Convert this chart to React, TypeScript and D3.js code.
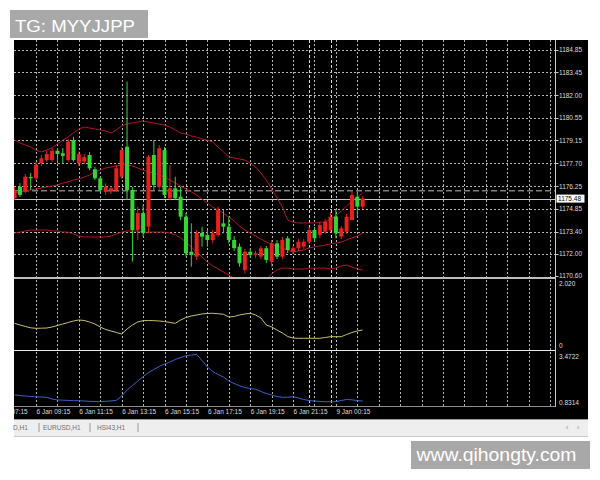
import React from 'react';
import * as d3 from 'd3';

// 15-minute candles (66 bars)
const open = [1175.52,1176.23,1175.92,1176.84,1176.76,1177.71,1177.91,1177.91,1178.50,1178.34,
  1177.91,1179.17,1177.71,1177.81,1178.23,1177.33,1176.76,1175.92,1175.92,1176.02,
  1176.86,1178.75,1176.02,1173.50,1174.57,1173.71,1178.23,1176.23,1178.54,1175.50,
  1176.13,1175.60,1174.34,1172.13,1171.82,1173.31,1173.19,1172.87,1173.19,1173.92,
  1173.71,1172.87,1172.45,1170.98,1172.13,1171.92,1171.82,1172.35,1171.50,1172.66,
  1171.82,1172.98,1172.13,1172.35,1172.45,1172.76,1173.50,1173.19,1173.39,1173.50,
  1174.34,1173.08,1173.39,1174.13,1175.60,1174.97];
const high = [1176.21,1176.46,1177.03,1177.09,1177.79,1178.23,1178.48,1178.67,1178.67,1178.67,
  1179.24,1179.38,1178.48,1178.29,1178.42,1177.47,1176.91,1176.45,1176.27,1177.60,
  1178.73,1182.85,1176.21,1174.97,1175.08,1178.23,1179.17,1178.86,1178.73,1177.60,
  1176.86,1176.23,1174.57,1173.92,1173.50,1173.71,1173.50,1173.50,1174.97,1174.76,
  1174.34,1173.12,1172.66,1172.30,1172.30,1172.18,1172.49,1172.49,1172.87,1172.87,
  1173.06,1173.12,1172.49,1172.93,1172.93,1173.69,1173.69,1174.00,1174.19,1174.65,
  1174.76,1173.75,1174.51,1175.92,1175.92,1175.64];
const low = [1175.39,1175.58,1175.83,1176.02,1176.65,1177.54,1177.79,1177.79,1177.71,1177.72,
  1177.79,1177.81,1177.54,1177.66,1177.28,1176.65,1175.90,1175.71,1175.77,1175.90,
  1176.72,1175.39,1171.50,1172.87,1173.08,1173.29,1176.02,1176.02,1175.52,1175.39,
  1175.39,1174.13,1171.82,1171.19,1171.61,1172.45,1172.45,1172.68,1173.08,1173.29,
  1172.66,1172.18,1171.19,1170.77,1171.73,1171.73,1171.67,1171.42,1171.19,1171.67,
  1171.67,1172.05,1171.99,1172.18,1172.30,1172.62,1172.81,1173.00,1173.25,1173.39,
  1172.98,1172.93,1173.25,1174.13,1174.34,1174.82];
const close = [1176.02,1175.71,1176.86,1176.76,1177.60,1178.02,1178.29,1178.50,1178.29,1178.17,
  1179.07,1177.91,1178.29,1178.10,1177.39,1176.76,1176.02,1176.23,1176.13,1177.39,
  1178.54,1176.02,1173.50,1174.57,1173.31,1178.12,1176.34,1178.65,1175.71,1176.13,
  1175.50,1174.34,1172.03,1171.92,1173.31,1173.08,1172.87,1173.29,1174.76,1173.71,
  1172.87,1172.35,1171.40,1172.13,1171.92,1172.03,1172.35,1171.61,1172.66,1171.82,
  1172.87,1172.24,1172.35,1172.76,1172.76,1173.50,1172.98,1173.82,1174.02,1174.34,
  1173.29,1173.61,1174.34,1175.71,1174.97,1175.48];

// bollinger bands
const bbUpper = [1179.17,1178.99,1178.86,1178.73,1178.54,1178.42,1178.54,1178.67,1178.92,1179.17,
  1179.36,1179.62,1179.87,1179.99,1179.93,1179.87,1179.81,1179.74,1179.62,1179.81,
  1180.06,1180.18,1180.25,1180.31,1180.37,1180.31,1180.25,1180.18,1180.12,1179.99,
  1179.81,1179.62,1179.55,1179.43,1179.36,1179.24,1179.17,1179.05,1178.73,1178.42,
  1178.10,1178.04,1177.98,1177.91,1177.72,1177.47,1177.09,1176.65,1176.09,1175.52,
  1174.95,1174.13,1174.00,1173.94,1173.94,1173.94,1173.94,1174.00,1174.00,1174.19,
  1174.38,1174.70,1175.01,1175.33,1175.58,1175.83];
const bbMiddle = [1175.83,1175.90,1175.96,1176.02,1176.09,1176.15,1176.21,1176.27,1176.34,1176.46,
  1176.53,1176.65,1176.72,1176.84,1176.97,1177.16,1177.28,1177.41,1177.47,1177.54,
  1177.60,1177.60,1177.54,1177.41,1177.28,1177.16,1177.09,1176.97,1176.84,1176.65,
  1176.46,1176.27,1176.09,1175.90,1175.71,1175.45,1175.20,1174.95,1174.76,1174.57,
  1174.32,1174.07,1173.75,1173.50,1173.31,1173.12,1172.93,1172.74,1172.62,1172.49,
  1172.37,1172.24,1172.11,1172.18,1172.24,1172.37,1172.43,1172.49,1172.55,1172.62,
  1172.68,1172.74,1172.87,1173.00,1173.12,1173.31];
const bbLower = [1173.31,1173.37,1173.44,1173.50,1173.50,1173.50,1173.50,1173.44,1173.44,1173.37,
  1173.37,1173.25,1173.12,1173.06,1173.06,1173.06,1173.06,1173.06,1173.12,1173.25,
  1173.37,1173.44,1173.44,1173.44,1173.37,1173.37,1173.37,1173.37,1173.37,1173.31,
  1173.19,1173.00,1172.74,1172.43,1172.11,1171.80,1171.48,1171.23,1171.04,1170.85,
  1170.66,1170.47,1170.22,1170.03,1169.91,1169.91,1170.03,1170.35,1170.73,1170.98,
  1171.10,1171.10,1171.04,1171.04,1171.04,1171.10,1171.10,1171.10,1171.10,1171.04,
  1171.10,1171.23,1171.29,1171.17,1171.04,1170.98];

// sub window 1 (yellow) and sub window 2 (blue)
const atrValues = [0.745,0.694,0.649,0.609,0.594,0.597,0.603,0.633,0.679,0.724,
  0.769,0.814,0.845,0.830,0.784,0.724,0.633,0.558,0.513,0.468,
  0.422,0.573,0.694,0.784,0.824,0.830,0.824,0.814,0.799,0.769,
  0.745,0.845,0.920,0.965,0.995,1.026,1.041,1.047,1.032,1.017,
  0.935,0.950,0.995,1.026,1.047,0.995,0.905,0.694,0.633,0.543,
  0.452,0.347,0.302,0.293,0.293,0.293,0.293,0.293,0.317,0.341,
  0.341,0.341,0.407,0.468,0.513,0.543];
const oscValues = [1.298,1.272,1.246,1.220,1.204,1.194,1.178,1.090,1.039,1.028,
  1.018,1.007,1.002,0.987,0.971,0.956,0.950,0.971,0.992,1.023,
  1.246,1.556,1.789,2.022,2.245,2.463,2.618,2.773,2.903,3.006,
  3.136,3.239,3.328,3.359,3.400,3.084,2.748,2.514,2.359,2.230,
  2.022,1.893,1.774,1.686,1.634,1.593,1.479,1.375,1.298,1.220,
  1.178,1.184,1.204,1.142,1.064,1.007,0.987,0.961,0.950,0.950,
  0.950,1.013,1.064,1.049,1.007,0.987];

const priceTicks = [1184.85, 1183.45, 1182.00, 1180.55, 1179.15, 1177.70, 1176.25, 1174.85, 1173.40, 1172.00, 1170.60];
const atrTicks = [2.02, 0];
const oscTicks = [3.4722, 0.8314];
const timeLabels = ['6 Jan 07:15', '6 Jan 09:15', '6 Jan 11:15', '6 Jan 13:15', '6 Jan 15:15', '6 Jan 17:15', '6 Jan 19:15', '6 Jan 21:15', '9 Jan 00:15'];
const timeLabelBars = [-4, 4, 12, 20, 28, 36, 44, 52, 60];
const separatorBars = [55, 59];
const dashedLevel = 1175.97;
const lastPrice = 1175.48;
const tabs = ['D,H1', 'EURUSD,H1', 'HSI43,H1'];

const x = d3.scaleLinear().domain([0, 100]).range([14.6, 550.1]);
const yMain = d3.scaleLinear().domain([1170.60, 1184.85]).range([276, 50]);
const yAtr = d3.scaleLinear().domain([0, 2.02]).range([348, 281]);
const yOsc = d3.scaleLinear().domain([0.8314, 3.4722]).range([404, 353]);

const LEFT = 14, AXIS = 555.5;
const BULL = '#e8201e', BEAR = '#34d634', GRID = '#b4b4b4';

export default function App() {
  const mk = (ys: d3.ScaleLinear<number, number>) =>
    d3.line<number>().x((_, i) => x(i)).y(d => ys(d));
  const bandPath = mk(yMain);
  const gridBars = d3.range(4, 101, 4);
  const fmt2 = d3.format('.2f');

  return (
    <svg width={600} height={480} style={{ position: 'absolute', left: 0, top: 0, background: '#fff' }}
      fontFamily="'Liberation Sans', Arial, sans-serif">
      <defs>
        <clipPath id="cMain"><rect x={LEFT} y={40} width={AXIS - LEFT} height={237} /></clipPath>
        <clipPath id="cSub"><rect x={LEFT} y={279} width={AXIS - LEFT} height={128} /></clipPath>
        <clipPath id="cTime"><rect x={LEFT} y={405} width={AXIS - LEFT} height={14} /></clipPath>
      </defs>

      <rect x={LEFT} y={40} width={574} height={379} fill="#000" />

      {/* grid */}
      {gridBars.map(b => (
        <line key={'v' + b} x1={Math.round(x(b)) + 0.5} x2={Math.round(x(b)) + 0.5} y1={40} y2={406}
          stroke={GRID} strokeDasharray="2 2" />
      ))}
      {separatorBars.map(b => (
        <line key={'s' + b} x1={Math.round(x(b)) + 0.5} x2={Math.round(x(b)) + 0.5} y1={40} y2={406}
          stroke="#d8d8d8" strokeDasharray="3 2" />
      ))}
      {priceTicks.slice(0, -1).map(t => (
        <line key={'h' + t} x1={LEFT} x2={AXIS} y1={Math.round(yMain(t)) + 0.5} y2={Math.round(yMain(t)) + 0.5}
          stroke={GRID} strokeDasharray="2 2" />
      ))}

      {/* main window */}
      <g clipPath="url(#cMain)">
        <line x1={LEFT} x2={AXIS} y1={yMain(dashedLevel)} y2={yMain(dashedLevel)} stroke="#bcbcbc" strokeDasharray="6 3" />
        <line x1={LEFT} x2={AXIS} y1={Math.round(yMain(lastPrice)) + 0.5} y2={Math.round(yMain(lastPrice)) + 0.5} stroke="#c4c4c4" />
        {[bbUpper, bbMiddle, bbLower].map((s, k) => (
          <path key={'bb' + k} d={bandPath(s) || ''} fill="none" stroke="#b0162e" strokeWidth={1} />
        ))}
        {open.map((o, i) => {
          const c = close[i];
          const col = c >= o ? BULL : BEAR;
          const cx = x(i);
          const top = yMain(Math.max(o, c));
          const bot = yMain(Math.min(o, c));
          return (
            <g key={'c' + i}>
              <line x1={cx} x2={cx} y1={yMain(high[i])} y2={yMain(low[i])} stroke={col} strokeWidth={1} />
              <rect x={cx - 2} y={top} width={4} height={Math.max(1, bot - top)} fill={col} />
            </g>
          );
        })}
      </g>

      {/* sub windows */}
      <g clipPath="url(#cSub)">
        <path d={mk(yAtr)(atrValues) || ''} fill="none" stroke="#c2c070" strokeWidth={1} />
        <path d={mk(yOsc)(oscValues) || ''} fill="none" stroke="#3f5fc4" strokeWidth={1} />
      </g>

      {/* window frames */}
      <rect x={LEFT} y={277} width={AXIS - LEFT} height={2} fill="#bdbdbd" />
      <line x1={LEFT} x2={AXIS} y1={350.5} y2={350.5} stroke="#e6e6e6" />
      <line x1={LEFT} x2={AXIS} y1={406.5} y2={406.5} stroke="#8c8c8c" />
      <line x1={AXIS} x2={AXIS} y1={40} y2={407} stroke="#c8c8c8" />

      {/* price axis */}
      {priceTicks.map(t => (
        <g key={'pt' + t}>
          <line x1={AXIS} x2={AXIS + 3} y1={Math.round(yMain(t)) + 0.5} y2={Math.round(yMain(t)) + 0.5} stroke="#c8c8c8" />
          <text x={559} y={yMain(t) + 2.3} fontSize={6.5} fill="#dedede">{fmt2(t)}</text>
        </g>
      ))}
      <rect x={556.5} y={yMain(lastPrice) - 4} width={28} height={8} fill="#fff" />
      <text x={558} y={yMain(lastPrice) + 2.3} fontSize={6.5} fill="#000">{fmt2(lastPrice)}</text>

      <text x={559} y={yAtr(atrTicks[0]) + 5} fontSize={6.5} fill="#dedede">{d3.format('.3f')(atrTicks[0])}</text>
      <text x={559} y={yAtr(atrTicks[1]) - 0.5} fontSize={6.5} fill="#dedede">{String(atrTicks[1])}</text>
      <text x={559} y={yOsc(oscTicks[0]) + 6} fontSize={6.5} fill="#dedede">{d3.format('.4f')(oscTicks[0])}</text>
      <text x={559} y={yOsc(oscTicks[1]) + 0.5} fontSize={6.5} fill="#dedede">{d3.format('.4f')(oscTicks[1])}</text>

      {/* time axis */}
      <g clipPath="url(#cTime)">
        {timeLabels.map((l, k) => (
          <text key={l} x={x(timeLabelBars[k]) + 0.5} y={414} fontSize={6.5} fill="#dedede">{l}</text>
        ))}
      </g>

      {/* tab bar */}
      <rect x={LEFT} y={419} width={574} height={17} fill="#eeeeee" />
      <line x1={LEFT} x2={588} y1={419.5} y2={419.5} stroke="#9a9a9a" />
      <line x1={LEFT} x2={588} y1={436.5} y2={436.5} stroke="#c8c8c8" />
      {tabs.map((t, k) => {
        const xs = [13, 43, 97];
        const bars = [39, 90, 138];
        return (
          <g key={t}>
            <text x={xs[k]} y={430} fontSize={6.5} fill="#707070">{t}</text>
            <line x1={bars[k]} x2={bars[k]} y1={423} y2={432} stroke="#9a9a9a" />
          </g>
        );
      })}
      <text x={566} y={430} fontSize={7} fill="#8a8a8a">‹</text>
      <text x={577} y={430} fontSize={7} fill="#8a8a8a">›</text>

      {/* watermarks */}
      <rect x={10} y={10} width={138} height={28} fill="#a8a8a8" />
      <text x={15} y={31.5} fontSize={16.5} fill="#fff" textLength={120} lengthAdjust="spacingAndGlyphs">TG: MYYJJPP</text>
      <rect x={411} y={441} width={179} height={28} fill="#a8a8a8" />
      <text x={416.5} y={461} fontSize={19} fill="#fff" textLength={160} lengthAdjust="spacingAndGlyphs">www.qihongty.com</text>
    </svg>
  );
}
